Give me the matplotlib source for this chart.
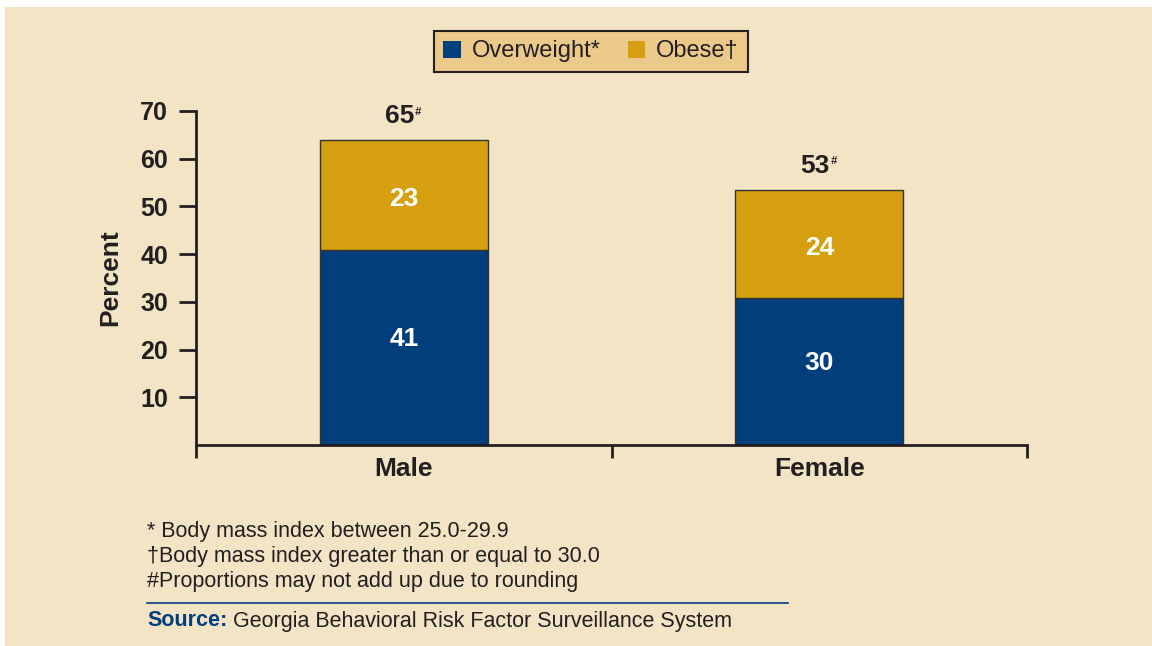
import matplotlib
matplotlib.use("Agg")
import matplotlib.pyplot as plt
from matplotlib.patches import Rectangle
from matplotlib.lines import Line2D

plt.rcParams['font.family'] = ['Liberation Sans', 'DejaVu Sans']

# data
groups = ['Male', 'Female']
overweight = [40.9, 30.8]
obese = [23.0, 22.7]
overweight_lbl = ['41', '30']
obese_lbl = ['23', '24']
total_lbl = ['65', '53']
yticks = [10, 20, 30, 40, 50, 60, 70]

notes = ['* Body mass index between 25.0-29.9',
         '\u2020Body mass index greater than or equal to 30.0',
         '#Proportions may not add up due to rounding']

bg = '#F3E4C5'
navy = '#003E7C'
gold = '#D69F0F'
ink = '#231F20'

W, H = 1152, 646
fig = plt.figure(figsize=(W / 100, H / 100), dpi=100)
fig.patch.set_facecolor('white')
fig.patches.append(Rectangle((5 / W, 0), 1, 1 - 7 / H, transform=fig.transFigure,
                             facecolor=bg, edgecolor='none', zorder=-10))

def fx(x):
    return x / W

def fy(y):
    return 1 - y / H

ax = fig.add_axes([fx(196), fy(445), fx(1027) - fx(196), fy(111) - fy(445)])
ax.set_facecolor('none')

x = range(len(groups))
ax.bar(x, overweight, width=0.405, color=navy, edgecolor='#333333', linewidth=1)
ax.bar(x, obese, width=0.405, bottom=overweight, color=gold, edgecolor='#333333', linewidth=1)

for i in x:
    ax.text(i, overweight[i] / 2 + 1.8, overweight_lbl[i], ha='center', va='center',
            color='white', fontsize=19, fontweight='bold')
    ax.text(i, overweight[i] + obese[i] / 2 - 0.8, obese_lbl[i], ha='center', va='center',
            color='white', fontsize=19, fontweight='bold')
    num = ax.annotate(total_lbl[i], (i - 0.01, overweight[i] + obese[i]), xytext=(0, 17),
                      textcoords='offset points', ha='center', va='center',
                      color=ink, fontsize=19, fontweight='bold')
    ax.annotate('#', xy=(1, 1), xycoords=num, xytext=(0.5, -1.5),
                textcoords='offset points', ha='left', va='top',
                color=ink, fontsize=8, fontweight='bold', style='italic')

ax.set_xlim(-0.5, 1.5)
ax.set_ylim(0, 70)
ax.set_yticks(yticks)
ax.set_yticklabels([str(v) for v in yticks])
ax.set_xticks([-0.5, 0.5, 1.5])
ax.set_xticklabels([])
ax.set_xticks([0, 1], minor=True)
ax.set_xticklabels(groups, minor=True)
ax.tick_params(axis='x', which='minor', length=0, pad=9, labelsize=19, labelcolor=ink)
ax.tick_params(axis='x', which='major', length=9, width=2, color=ink)
ax.tick_params(axis='y', length=12, width=2, color=ink, pad=8, labelsize=18, labelcolor=ink)
for lab in ax.get_xticklabels(minor=True) + ax.get_yticklabels():
    lab.set_fontweight('bold')

for s in ['top', 'right']:
    ax.spines[s].set_visible(False)
for s in ['left', 'bottom']:
    ax.spines[s].set_linewidth(2)
    ax.spines[s].set_color(ink)

ax.set_ylabel('Percent', fontsize=19, fontweight='bold', color=ink, labelpad=13)

handles = [Rectangle((0, 0), 1, 1, facecolor=navy), Rectangle((0, 0), 1, 1, facecolor=gold)]
leg = fig.legend(handles, ['Overweight*', 'Obese\u2020'], loc='upper center',
                 bbox_to_anchor=(fx(591), fy(31)), ncol=2, fontsize=17,
                 frameon=True, fancybox=False, framealpha=1, facecolor='#EBC98A',
                 edgecolor=ink, handlelength=0.75, handleheight=0.75,
                 handletextpad=0.45, columnspacing=1.15, borderpad=0.4,
                 borderaxespad=0)
leg.get_frame().set_linewidth(1.5)
for t in leg.get_texts():
    t.set_color(ink)

for k, note in enumerate(notes):
    fig.text(fx(147), fy(531 + 25.5 * k), note, fontsize=15.5, color=ink, va='center', ha='left')

fig.add_artist(Line2D([fx(147), fx(788)], [fy(603), fy(603)], transform=fig.transFigure,
                      color=navy, linewidth=1.2))
fig.text(fx(147), fy(621), 'Source:', fontsize=15.5, color=navy, fontweight='bold',
         va='center', ha='left')
fig.text(fx(233), fy(621), 'Georgia Behavioral Risk Factor Surveillance System',
         fontsize=15.5, color=ink, va='center', ha='left')

fig.savefig('out.png', dpi=100, facecolor=fig.get_facecolor())
